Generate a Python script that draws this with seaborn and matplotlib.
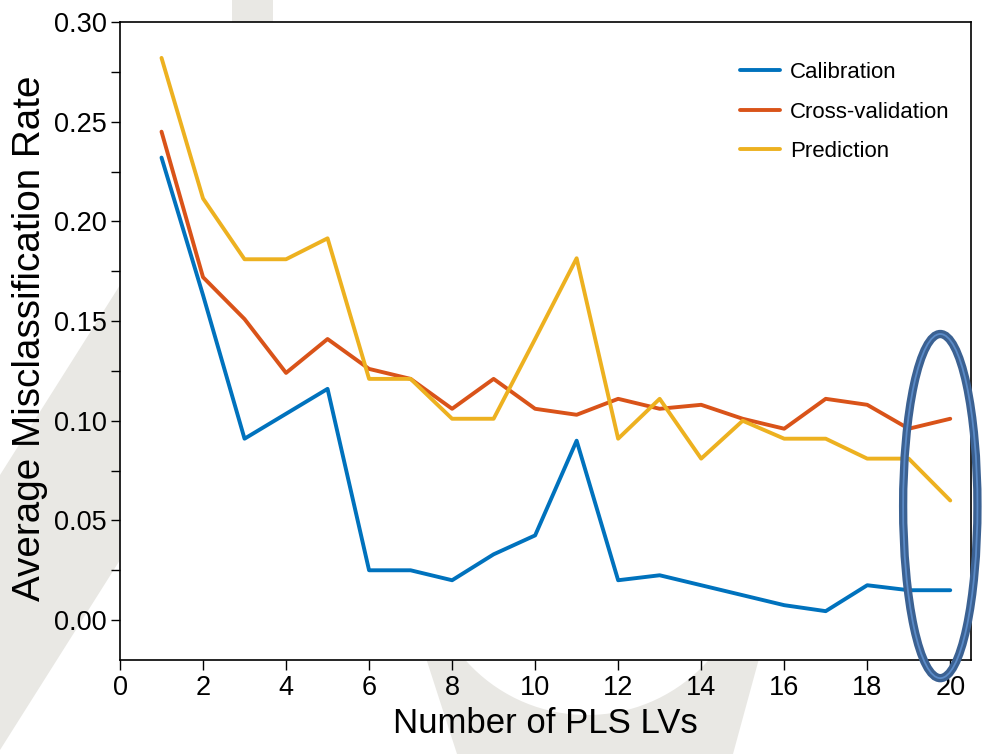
import numpy as np
import pandas as pd
import matplotlib
matplotlib.use("Agg")
import matplotlib.pyplot as plt
import seaborn as sns
from matplotlib.patches import Ellipse, Polygon
from matplotlib.lines import Line2D

lvs = list(range(1, 21))
calibration = [0.232, 0.163, 0.091, 0.1035, 0.116, 0.025, 0.025, 0.020, 0.033, 0.0425,
               0.090, 0.020, 0.0225, 0.0175, 0.0125, 0.0075, 0.0045, 0.0175, 0.015, 0.015]
cross_validation = [0.245, 0.172, 0.151, 0.124, 0.141, 0.126, 0.121, 0.106, 0.121, 0.106,
                    0.103, 0.111, 0.106, 0.108, 0.101, 0.096, 0.111, 0.108, 0.096, 0.101]
prediction = [0.282, 0.2115, 0.181, 0.181, 0.1915, 0.121, 0.121, 0.101, 0.101, 0.141,
              0.1815, 0.091, 0.111, 0.081, 0.100, 0.091, 0.091, 0.081, 0.081, 0.060]

series_names = ["Calibration", "Cross-validation", "Prediction"]
colors = ["#0072BD", "#D95319", "#EDB120"]

sns.set_theme(style="ticks")
plt.rcParams["font.family"] = ["Liberation Sans", "DejaVu Sans"]
plt.rcParams["text.color"] = "black"
plt.rcParams["axes.labelcolor"] = "black"
plt.rcParams["xtick.color"] = "black"
plt.rcParams["ytick.color"] = "black"

df = pd.DataFrame({"LVs": lvs, "Calibration": calibration,
                   "Cross-validation": cross_validation, "Prediction": prediction})
long_df = pd.melt(df, ["LVs"], var_name="Set", value_name="Rate")

W, H = 986, 754
fig = plt.figure(figsize=(W / 100, H / 100), dpi=100)
ax = fig.add_axes([120 / W, 1 - 660 / H, 851 / W, 638 / H])

# faint background watermark (pixel coords, y from top)
wm = "#e9e8e4"
def px(pts):
    return [(x, H - y) for x, y in pts]
fig.add_artist(Polygon(px([(120, 285), (120, 560), (0, 750), (0, 475)]), closed=True,
                       transform=None, facecolor=wm, edgecolor="none", zorder=-2))
fig.add_artist(Polygon(px([(425, 655), (760, 655), (733, 754), (457, 754)]), closed=True,
                       transform=None, facecolor=wm, edgecolor="none", zorder=-2))
fig.add_artist(Ellipse((587, H - 553), 324, 324, transform=None, facecolor="white",
                       edgecolor="none", zorder=-1.5))
fig.add_artist(Polygon(px([(232, 0), (273, 0), (273, 22), (232, 22)]), closed=True,
                       transform=None, facecolor=wm, edgecolor="none", zorder=-2))

sns.lineplot(data=long_df, x="LVs", y="Rate", hue="Set", hue_order=series_names,
             palette=colors, linewidth=2.8, ax=ax, legend=False)

ax.set_xlim(0, 20.5)
ax.set_ylim(-0.02, 0.30)
ax.set_xticks(np.arange(0, 21, 2))
ax.set_yticks(np.arange(0, 0.31, 0.05))
ax.set_yticks(np.arange(0.025, 0.30, 0.05), minor=True)
ax.set_yticklabels([f"{v:.2f}" for v in np.arange(0, 0.31, 0.05)])
for s in ax.spines.values():
    s.set_visible(True)
    s.set_linewidth(1.2)
    s.set_color("black")
ax.tick_params(axis="both", which="both", direction="out", length=6.5, width=1.0,
               color="black", labelsize=19.5, pad=3)
ax.tick_params(axis="x", length=7, pad=4)
ax.set_xlabel("Number of PLS LVs", fontsize=25, labelpad=4)
ax.set_ylabel("Average Misclassification Rate", fontsize=27.8, labelpad=8)
ax.yaxis.set_label_coords(-0.085, 0.505)

handles = [Line2D([0], [0], color=c, lw=2.8) for c in colors]
ax.legend(handles, series_names, loc="upper left", bbox_to_anchor=(0.7286, 0.937),
          frameon=False, fontsize=16, handlelength=1.8, handletextpad=0.45,
          labelspacing=0.83, borderpad=0, borderaxespad=0)

# highlight ring around LV 20
ax.add_patch(Ellipse((19.76, 0.0572), 1.79, 0.1726, facecolor="none",
                     edgecolor="#3b6192", lw=6, clip_on=False, zorder=5))
ax.add_patch(Ellipse((19.76, 0.0572), 1.79, 0.1726, facecolor="none",
                     edgecolor="#5b8bc8", lw=1.3, clip_on=False, zorder=6))

fig.savefig("out.png", dpi=100)
